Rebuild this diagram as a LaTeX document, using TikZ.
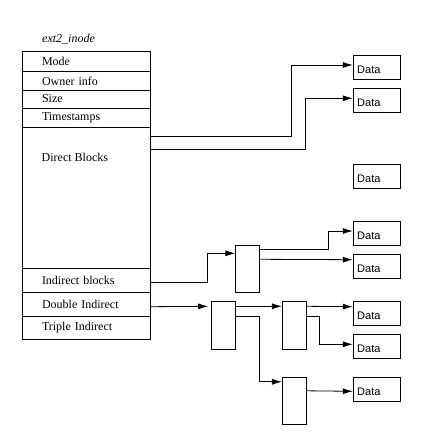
\documentclass[tikz,border=0pt]{standalone}
\usepackage{fontspec}
\setmainfont{Liberation Serif}
\setsansfont{Liberation Sans}
\usetikzlibrary{arrows.meta}
\tikzstyle{field} = [draw, text width=88pt, inner xsep=20pt, inner ysep=0pt, align=left, font={\fontsize{12}{14}\selectfont}]
\tikzstyle{datablk} = [draw, text width=39pt, inner xsep=4pt, inner ysep=0pt, minimum height=24pt, text height=12pt, align=left, font={\sffamily\fontsize{11}{13}\selectfont}]
\tikzstyle{ptrblk} = [draw, minimum width=24pt, inner sep=0pt]
\tikzstyle{ptr} = [-{Latex[length=10pt,width=6pt]}]

\begin{document}
\begin{tikzpicture}[x=1pt,y=-1pt,line width=0.8pt]
    \useasboundingbox (0,0) rectangle (430,447);
    \node[font={\itshape\fontsize{12}{14}\selectfont},anchor=west](title) at (38.5,39){ext2\_inode};
    \node[field,minimum height=20pt](mode) at (86,61.7){Mode};
    \node[field,minimum height=18.3pt](owner) at (86,80.85){Owner info};
    \node[field,minimum height=18pt](size) at (86,99){Size};
    \node[field,minimum height=19.3pt](times) at (86,117.65){Timestamps};
    \node[field,minimum height=141pt](direct) at (86,197.8){};
    \node[font={\fontsize{12}{14}\selectfont},anchor=west](directtxt) at (38,157){Direct Blocks};
    \node[field,minimum height=24pt](indirect) at (86,280.3){Indirect blocks};
    \node[field,minimum height=24.4pt](double) at (86,304.5){Double Indirect};
    \node[field,minimum height=22.6pt](triple) at (86,328){Triple Indirect};
    \node[ptrblk,minimum height=47pt](ind1) at (247.7,268.8){};
    \node[ptrblk,minimum height=48pt](dbl1) at (223.5,325.3){};
    \node[ptrblk,minimum height=48pt](dbl2) at (294.3,325.3){};
    \node[ptrblk,minimum height=47pt](dbl3) at (294.3,400.7){};
    \node[datablk](d1) at (376.7,67.7){Data};
    \node[datablk](d2) at (376.7,100.8){Data};
    \node[datablk](d3) at (376.7,176.2){Data};
    \node[datablk](d4) at (376.7,233.2){Data};
    \node[datablk](d5) at (376.7,266.3){Data};
    \node[datablk](d6) at (376.7,313.3){Data};
    \node[datablk](d7) at (376.7,346.3){Data};
    \node[datablk](d8) at (376.7,389.3){Data};
    \draw[ptr]([yshift=-9.7pt]direct.north east) -| ([xshift=-61pt,yshift=2.7pt]d1.west) -- ([yshift=2.7pt]d1.west);
    \draw[ptr]([yshift=-22.7pt]direct.north east) -| ([xshift=-47pt,yshift=2.5pt]d2.west) -- ([yshift=2.5pt]d2.west);
    \draw[ptr]([yshift=-2pt]indirect.east) -| ([xshift=-28pt,yshift=-8.4pt]ind1.north west) -- ([yshift=-8.4pt]ind1.north west);
    \draw[ptr]([yshift=-4pt]ind1.north east) -| ([xshift=-24pt,yshift=2.2pt]d4.west) -- ([yshift=2.2pt]d4.west);
    \draw[ptr]([yshift=-14.4pt]ind1.north east) -- ([yshift=6.6pt]d5.west);
    \draw[ptr,shorten >=3pt]([yshift=-2.2pt]double.east) -- ([yshift=-5.4pt]dbl1.north west);
    \draw[ptr]([yshift=-5.4pt]dbl1.north east) -- ([yshift=-5.4pt]dbl2.north west);
    \draw[ptr]([yshift=-15.4pt]dbl1.north east) -| ([xshift=-22.6pt,yshift=-5pt]dbl3.north west) -- ([yshift=-5pt]dbl3.north west);
    \draw[ptr]([yshift=-5.4pt]dbl2.north east) -- ([yshift=6.6pt]d6.west);
    \draw[ptr]([yshift=-15.4pt]dbl2.north east) -| ([xshift=-33pt,yshift=2pt]d7.west) -- ([yshift=2pt]d7.west);
    \draw[ptr]([yshift=-14pt]dbl3.north east) -- ([yshift=-2pt]d8.west);
  \end{tikzpicture}
\end{document}
